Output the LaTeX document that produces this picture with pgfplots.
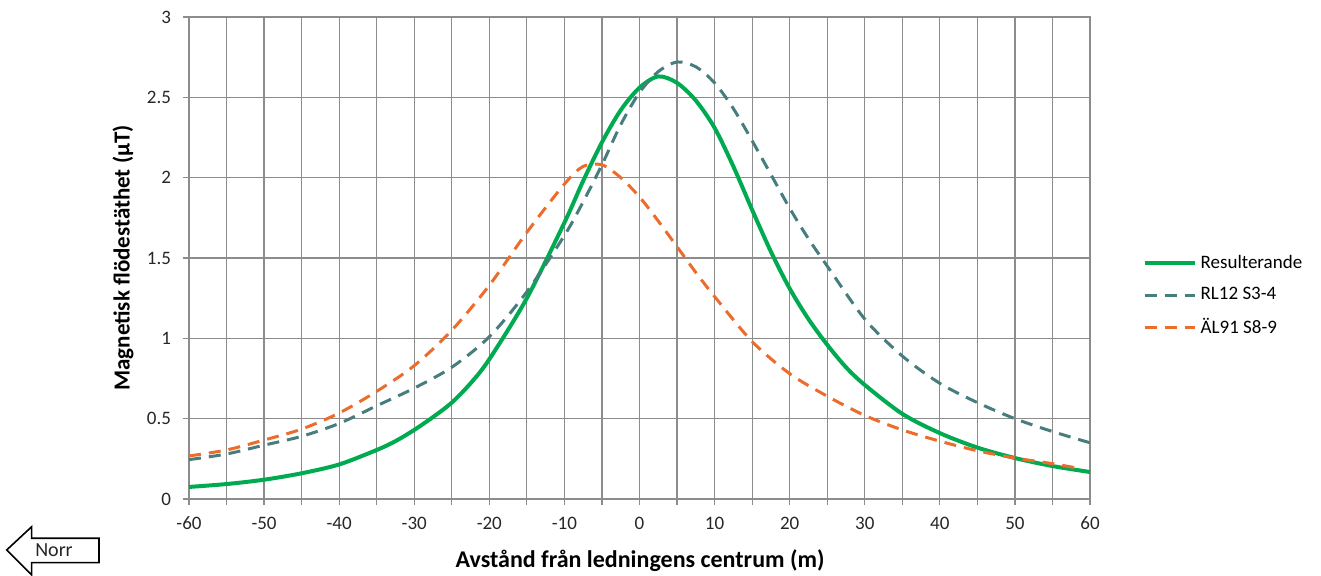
\documentclass[border=0pt]{standalone}
\usepackage{fontspec}
\setmainfont{Carlito}
\usepackage{pgfplots}
\pgfplotsset{compat=1.18}
\definecolor{gridc}{RGB}{140,140,140}
\definecolor{cgreen}{RGB}{0,170,80}
\definecolor{cteal}{RGB}{72,125,125}
\definecolor{corange}{RGB}{236,108,44}
\begin{document}
\begin{tikzpicture}
\useasboundingbox (-94.5pt,-38.5pt) rectangle (566pt,249.5pt);
\begin{axis}[
  scale only axis, width=450.5pt, height=241pt,
  at={(0pt,0pt)}, anchor=south west,
  xmin=-60, xmax=60, ymin=0, ymax=3,
  xtick={-60,-50,...,60}, minor xtick={-55,-45,...,55},
  ytick={0,0.5,...,3},
  xtick pos=left, ytick pos=left,
  grid=both,
  grid style={gridc, line width=0.6pt},
  minor grid style={gridc, line width=0.6pt},
  axis line style={gridc, line width=0.6pt},
  tick style={gridc, line width=0.6pt},
  tick align=outside, major tick length=3pt, minor tick length=3pt,
  /pgf/number format/assume math mode=true,
  tick label style={font=\fontsize{9.5}{11}\selectfont, text=black!85},
  xticklabel style={yshift=-2.5pt},
  yticklabel style={xshift=-2.5pt},
  xlabel={Avstånd från ledningens centrum (m)},
  xlabel style={font=\bfseries\fontsize{12}{14}\selectfont, at={(axis description cs:0.5006,-0.1286)}, anchor=center},
  ylabel={Magnetisk flödestäthet (µT)},
  ylabel style={font=\bfseries\fontsize{11.5}{14}\selectfont, at={(axis description cs:-0.0733,0.5)}, anchor=center},
  legend cell align=left,
  legend style={at={(axis description cs:1.058,0.421)}, anchor=west, draw=none, fill=none,
    font=\fontsize{9.5}{11}\selectfont, row sep=4pt, inner sep=0pt},
  legend image code/.code={\draw[#1] (0pt,0pt) -- (25pt,0pt);},
]
\addplot[cgreen, line width=2pt, smooth] coordinates {
(-60,0.075) (-55,0.093) (-50,0.12) (-45,0.16) (-40,0.215) (-35,0.305) (-32.5,0.36) (-30,0.43) (-27.5,0.51) (-25,0.60) (-22.5,0.72) (-20,0.87) (-15,1.25) (-10,1.72) (-7.5,1.98) (-5,2.22) (-2.5,2.42) (0,2.56) (2.5,2.63) (5,2.59) (7.5,2.48) (10,2.31) (12.5,2.07) (15,1.80) (17.5,1.54) (20,1.31) (22.5,1.12) (25,0.96) (27.5,0.82) (30,0.71) (35,0.53) (40,0.41) (45,0.32) (50,0.255) (55,0.205) (60,0.168)
};
\addlegendentry{Resulterande}
\addplot[cteal, line width=1.5pt, dash pattern=on 6pt off 4pt, smooth] coordinates {
(-60,0.245) (-55,0.28) (-50,0.335) (-45,0.39) (-40,0.47) (-35,0.58) (-30,0.69) (-25,0.82) (-20,1.01) (-15,1.29) (-10,1.64) (-7.5,1.85) (-5,2.08) (-2.5,2.33) (0,2.53) (2.5,2.66) (5,2.72) (7.5,2.69) (10,2.59) (12.5,2.43) (15,2.23) (17.5,2.02) (20,1.81) (22.5,1.62) (25,1.45) (30,1.12) (35,0.89) (40,0.72) (45,0.60) (50,0.50) (55,0.42) (60,0.35)
};
\addlegendentry{RL12 S3-4}
\addplot[corange, line width=1.5pt, dash pattern=on 6pt off 4pt, smooth] coordinates {
(-60,0.268) (-55,0.305) (-50,0.367) (-45,0.435) (-40,0.535) (-35,0.67) (-30,0.83) (-25,1.05) (-20,1.33) (-15,1.66) (-10,1.96) (-7.5,2.07) (-5,2.08) (-2.5,2.0) (0,1.88) (2.5,1.73) (5,1.57) (7.5,1.41) (10,1.26) (15,0.98) (20,0.78) (25,0.64) (30,0.52) (35,0.43) (40,0.36) (45,0.30) (50,0.255) (55,0.22) (58,0.195)
};
\addlegendentry{ÄL91 S8-9}
\end{axis}
\draw[black, line width=0.8pt] (-91.15pt,-25.5pt) -- (-78.65pt,-13.85pt) -- (-78.65pt,-19.65pt) -- (-45pt,-19.65pt) -- (-45pt,-31.85pt) -- (-78.65pt,-31.85pt) -- (-78.65pt,-38pt) -- cycle;
\node[font=\fontsize{10}{12}\selectfont, text=black!85] at (-67.5pt,-25.5pt) {Norr};
\end{tikzpicture}
\end{document}
